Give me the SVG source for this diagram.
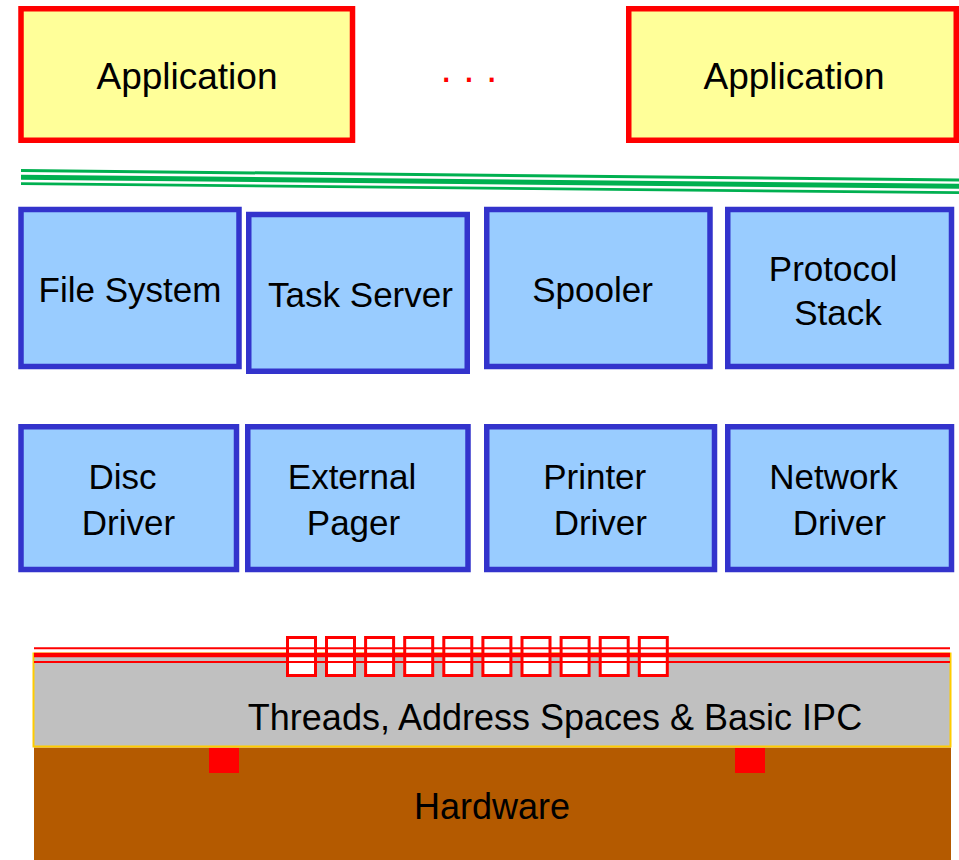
<svg xmlns="http://www.w3.org/2000/svg" width="959" height="860" viewBox="0 0 959 860">
<style>
.app{fill:#FFFF99;stroke:#FF0000;stroke-width:5.5}
.srv{fill:#99CCFF;stroke:#3333CC;stroke-width:5.5}
.t{font-family:"Liberation Sans",Arial,sans-serif;fill:#000;text-anchor:middle}
.t37{font-size:37px}
.t35{font-size:35px}
.gl{stroke:#00B050;fill:none}
.rl{stroke:#FF0000;fill:none}
.ipc{fill:#FFFFFF;stroke:#FF0000;stroke-width:3}
</style>
<rect width="959" height="860" fill="#FFFFFF"/>

<g id="app1">
<rect class="app" x="21" y="8.75" width="331.5" height="131.5"/>
<text class="t t37" x="187" y="89">Application</text>
</g>
<g id="dots">
<text x="469" y="81.5" font-family="Liberation Sans,Arial,sans-serif" font-size="41" fill="#FF0000" text-anchor="middle">. . .</text>
</g>
<g id="app2">
<rect class="app" x="628.75" y="8.75" width="327.5" height="131.5"/>
<text class="t t37" x="794" y="89">Application</text>
</g>

<g id="connectors">
<line class="gl" x1="21" y1="170.5" x2="959" y2="180" stroke-width="3"/>
<line class="gl" x1="21" y1="177.3" x2="959" y2="186.3" stroke-width="5"/>
<line class="gl" x1="21" y1="183.7" x2="959" y2="192.7" stroke-width="2.7"/>
</g>

<g id="filesystem">
<rect class="srv" x="21" y="209.5" width="218" height="157"/>
<text class="t t35" x="130" y="302">File System</text>
</g>
<g id="taskserver">
<rect class="srv" x="248.75" y="214.5" width="218.5" height="156.75"/>
<text class="t t35" x="360.5" y="306.5">Task Server</text>
</g>
<g id="spooler">
<rect class="srv" x="486.75" y="209.5" width="223.25" height="157"/>
<text class="t t35" x="592.5" y="302">Spooler</text>
</g>
<g id="protocolstack">
<rect class="srv" x="727.75" y="209.5" width="223.75" height="157"/>
<text class="t t35" x="833" y="281">Protocol</text>
<text class="t t35" x="838" y="325">Stack</text>
</g>

<g id="discdriver">
<rect class="srv" x="21" y="426.75" width="215.5" height="142.75"/>
<text class="t t35" x="122.5" y="489">Disc</text>
<text class="t t35" x="128.5" y="535">Driver</text>
</g>
<g id="externalpager">
<rect class="srv" x="247.75" y="426.75" width="220.25" height="142.75"/>
<text class="t t35" x="352" y="489">External</text>
<text class="t t35" x="353.5" y="535">Pager</text>
</g>
<g id="printerdriver">
<rect class="srv" x="486.75" y="426.75" width="227.75" height="142.75"/>
<text class="t t35" x="594.7" y="489">Printer</text>
<text class="t t35" x="600.3" y="535">Driver</text>
</g>
<g id="networkdriver">
<rect class="srv" x="727.75" y="426.75" width="223.75" height="142.75"/>
<text class="t t35" x="833.5" y="489">Network</text>
<text class="t t35" x="839.3" y="535">Driver</text>
</g>

<g id="hardware">
<rect x="34" y="747.5" width="917" height="112.5" fill="#B45A00"/>
<rect x="209" y="748" width="30" height="25" fill="#FF0000"/>
<rect x="735" y="748" width="30" height="25" fill="#FF0000"/>
<text class="t" font-size="36" x="492" y="819">Hardware</text>
</g>

<g id="kernel">
<rect x="33.5" y="653.5" width="917" height="93" fill="#C0C0C0" stroke="#FFCC00" stroke-width="2"/>
<rect class="ipc" x="287.5" y="637.5" width="28" height="38"/>
<rect class="ipc" x="326.5" y="637.5" width="28" height="38"/>
<rect class="ipc" x="365.6" y="637.5" width="28" height="38"/>
<rect class="ipc" x="404.7" y="637.5" width="28" height="38"/>
<rect class="ipc" x="443.8" y="637.5" width="28" height="38"/>
<rect class="ipc" x="482.9" y="637.5" width="28" height="38"/>
<rect class="ipc" x="522" y="637.5" width="28" height="38"/>
<rect class="ipc" x="561.1" y="637.5" width="28" height="38"/>
<rect class="ipc" x="600.2" y="637.5" width="28" height="38"/>
<rect class="ipc" x="639.3" y="637.5" width="28" height="38"/>
<line class="rl" x1="34" y1="648.3" x2="950" y2="648.3" stroke-width="2"/>
<line class="rl" x1="34" y1="655" x2="950" y2="655" stroke-width="4.6"/>
<line class="rl" x1="34" y1="662" x2="950" y2="662" stroke-width="2"/>
<text class="t" font-size="36" x="555" y="730">Threads, Address Spaces &amp; Basic IPC</text>
</g>
</svg>
